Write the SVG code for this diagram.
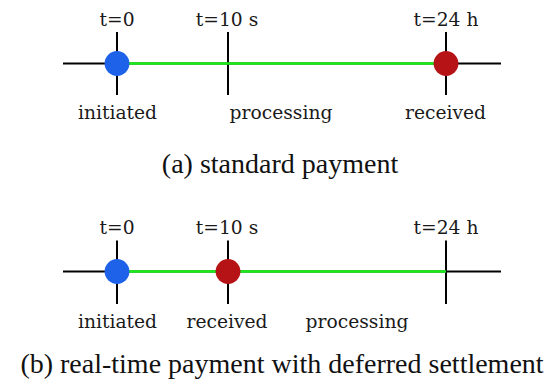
<svg xmlns="http://www.w3.org/2000/svg" width="556" height="388" viewBox="0 0 556 388">
  <style>
    .axis { stroke: #000; stroke-width: 2; fill: none; }
    .span { stroke: #16ee16; stroke-width: 2.4; fill: none; }
    .lbl { font-family: "DejaVu Serif", serif; font-size: 18.7px; fill: #1a1a1a; text-anchor: middle; }
    .cap { font-family: "Liberation Serif", "Times New Roman", serif; font-size: 28px; fill: #111; text-anchor: middle; }
    .start { fill: #1e62ea; }
    .end { fill: #b51315; }
  </style>
  <rect width="556" height="388" fill="#fff"/>

  <!-- (a) standard payment -->
  <g id="timeline-a">
    <g id="connectors-a">
      <line class="axis" x1="63" y1="63.5" x2="501" y2="63.5"/>
      <line class="axis" x1="117" y1="32" x2="117" y2="95"/>
      <line class="axis" x1="228" y1="32" x2="228" y2="95"/>
      <line class="axis" x1="446" y1="32" x2="446" y2="95"/>
      <line class="span" x1="117" y1="63.5" x2="446" y2="63.5"/>
    </g>
    <g id="a-initiated">
      <circle class="start" cx="117" cy="63.5" r="12.4"/>
      <text class="lbl" x="117" y="26">t=0</text>
      <text class="lbl" x="117.5" y="119">initiated</text>
    </g>
    <g id="a-processing">
      <text class="lbl" x="227" y="26">t=10 s</text>
      <text class="lbl" x="281" y="119">processing</text>
    </g>
    <g id="a-received">
      <circle class="end" cx="446" cy="63.5" r="12.4"/>
      <text class="lbl" x="446" y="26">t=24 h</text>
      <text class="lbl" x="445.5" y="119">received</text>
    </g>
    <text class="cap" x="280" y="173">(a) standard payment</text>
  </g>

  <!-- (b) real-time payment with deferred settlement -->
  <g id="timeline-b">
    <g id="connectors-b">
      <line class="axis" x1="63" y1="271.5" x2="501" y2="271.5"/>
      <line class="axis" x1="117" y1="240.5" x2="117" y2="304"/>
      <line class="axis" x1="228" y1="240.5" x2="228" y2="304"/>
      <line class="axis" x1="446" y1="240.5" x2="446" y2="304"/>
      <line class="span" x1="117" y1="271.5" x2="446" y2="271.5"/>
    </g>
    <g id="b-initiated">
      <circle class="start" cx="117" cy="271.5" r="12.4"/>
      <text class="lbl" x="117" y="234">t=0</text>
      <text class="lbl" x="117.5" y="328">initiated</text>
    </g>
    <g id="b-received">
      <circle class="end" cx="228" cy="271.5" r="12.4"/>
      <text class="lbl" x="227" y="234">t=10 s</text>
      <text class="lbl" x="227" y="328">received</text>
    </g>
    <g id="b-processing">
      <text class="lbl" x="446" y="234">t=24 h</text>
      <text class="lbl" x="357" y="328">processing</text>
    </g>
    <text class="cap" x="282" y="373">(b) real-time payment with deferred settlement</text>
  </g>
</svg>
